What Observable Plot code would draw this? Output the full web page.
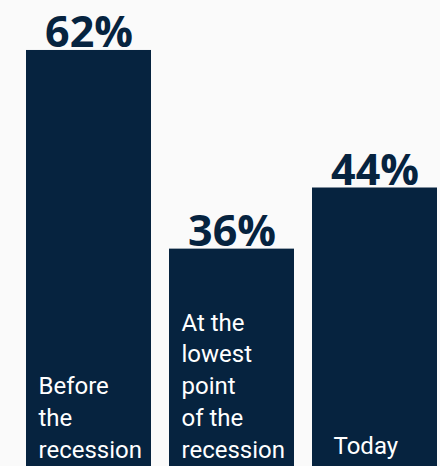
<!DOCTYPE html>
<html>
<head>
<meta charset="utf-8">
<script src="https://cdn.jsdelivr.net/npm/d3@7"></script>
<script src="https://cdn.jsdelivr.net/npm/@observablehq/plot@0.6"></script>
<style>
  html, body { margin: 0; padding: 0; background: #fafafa; overflow: hidden; }
  #chart svg { display: block; background: #fafafa; }
</style>
</head>
<body>
<div id="chart"></div>
<script>
const categories = ["Before the recession", "At the lowest point of the recession", "Today"];
const values = [62, 36, 44];
const valueLabels = ["62%", "36%", "44%"];
const categoryLabels = ["Before\nthe\nrecession", "At the\nlowest\npoint\nof the\nrecession", "Today"];

const data = categories.map((c, i) => ({
  category: c,
  value: values[i],
  valueLabel: valueLabels[i],
  label: categoryLabels[i]
}));

const navy = "#06233f";

const chart = Plot.plot({
  width: 440,
  height: 466,
  marginTop: 0,
  marginBottom: 0,
  marginLeft: 26,
  marginRight: 3,
  style: { background: "#fafafa", overflow: "hidden" },
  x: { domain: categories, paddingInner: 18 / 143, paddingOuter: 0, axis: null },
  y: { domain: [7.55, 68.54], axis: null },
  marks: [
    Plot.barY(data, { x: "category", y: "value", fill: navy, clip: true }),
    Plot.text(data, {
      x: "category", y: "value", text: "valueLabel",
      textAnchor: "middle", lineAnchor: "bottom", dy: -3,
      fill: navy, fontSize: 43, fontWeight: 700,
      fontFamily: "'Open Sans', sans-serif"
    }),
    Plot.text(data.filter(d => d.category !== "Today"), {
      x: "category", text: "label", frameAnchor: "bottom",
      textAnchor: "start", lineAnchor: "bottom", lineHeight: 1.32,
      dx: -50.5, dy: -9,
      fill: "white", fontSize: 24, fontFamily: "Roboto, sans-serif"
    }),
    Plot.text(data.filter(d => d.category === "Today"), {
      x: "category", text: "label", frameAnchor: "bottom",
      textAnchor: "start", lineAnchor: "bottom",
      dx: -41.5, dy: -13,
      fill: "white", fontSize: 24, fontFamily: "Roboto, sans-serif"
    })
  ]
});

document.getElementById("chart").appendChild(chart);
</script>
</body>
</html>
